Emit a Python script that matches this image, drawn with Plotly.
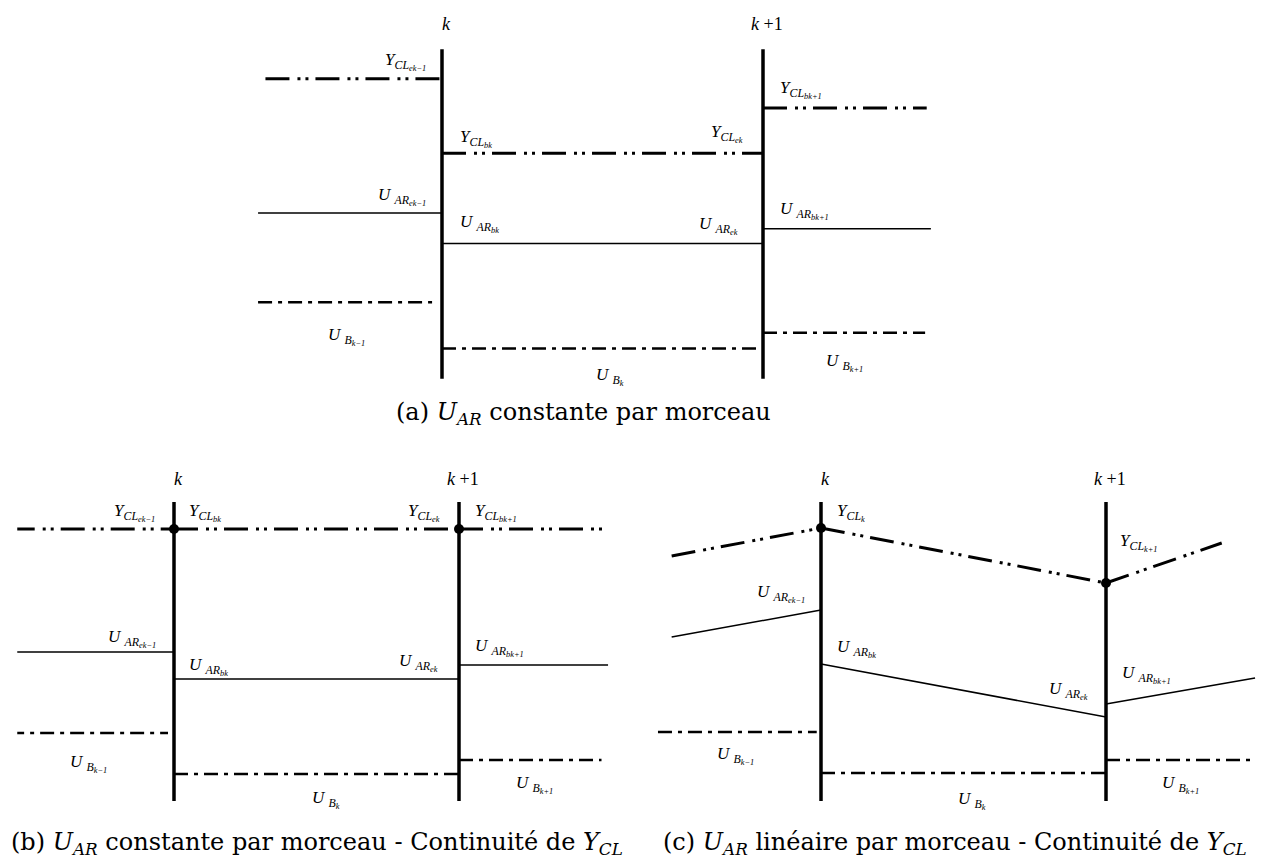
import plotly.graph_objects as go

# ------------------------------------------------------------------ DATA
# horizontal unit: boundary k = 0, boundary k+1 = 1 ; vertical: arbitrary level units
bound_x = [0, 1]
bound_text = ["<i>k</i>", "<i>k</i> +1"]

# ---- panel (a): U_AR piecewise constant
a_bound_y = [2.2, 35.8]
a_ycl_x = [[-0.55, 0], [0, 1], [1, 1.51]]
a_ycl_y = [[32.8, 32.8], [25.2, 25.2], [29.8, 29.8]]
a_uar_x = [[-0.573, 0], [0, 1], [1, 1.523]]
a_uar_y = [[19.1, 19.1], [16.0, 16.0], [17.5, 17.5]]
a_ub_x = [[-0.573, -0.016], [0, 1], [1, 1.505]]
a_ub_y = [[10.0, 10.0], [5.3, 5.3], [6.9, 6.9]]

# ---- panel (b): U_AR piecewise constant, Y_CL continuous
b_bound_y = [0.9, 30.8]
b_ycl_x = [[-0.573, 0], [0, 1], [1, 1.518]]
b_ycl_y = [[28.1, 28.1], [28.1, 28.1], [28.1, 28.1]]
b_node_y = [28.1, 28.1]
b_uar_x = [[-0.573, 0], [0, 1], [1, 1.523]]
b_uar_y = [[15.8, 15.8], [13.1, 13.1], [14.5, 14.5]]
b_ub_x = [[-0.575, -0.021], [0, 1], [1, 1.50]]
b_ub_y = [[7.7, 7.7], [3.6, 3.6], [5.0, 5.0]]

# ---- panel (c): U_AR piecewise linear, Y_CL continuous
c_bound_y = [0.9, 30.8]
c_ycl_x = [[-0.524, 0], [0, 1], [1, 1.406]]
c_ycl_y = [[25.4, 28.2], [28.2, 22.7], [22.7, 26.7]]
c_node_y = [28.2, 22.7]
c_uar_x = [[-0.524, 0], [0, 1], [1, 1.523]]
c_uar_y = [[17.3, 20.0], [14.6, 9.3], [10.6, 13.2]]
c_ub_x = [[-0.572, -0.015], [0, 1], [1, 1.512]]
c_ub_y = [[7.8, 7.8], [3.7, 3.7], [5.0, 5.0]]

# ---- labels: (main letter, subscript, sub-subscript)
a_lab_name = [("Y", "CL", "ek−1"), ("Y", "CL", "bk"), ("Y", "CL", "ek"), ("Y", "CL", "bk+1"),
              ("U ", "AR", "ek−1"), ("U ", "AR", "bk"), ("U ", "AR", "ek"), ("U ", "AR", "bk+1"),
              ("U ", "B", "k−1"), ("U ", "B", "k"), ("U ", "B", "k+1")]
a_lab_x = [-0.044, 0.05, 0.944, 1.047, -0.044, 0.05, 0.928, 1.047, -0.361, 0.474, 1.19]
a_lab_y = [34.5, 26.7, 27.2, 31.7, 20.8, 18.0, 17.8, 19.4, 6.5, 2.4, 3.9]
a_lab_side = ["right", "left", "right", "left", "right", "left", "right", "left", "left", "left", "left"]
a_k_y = 38.4

b_lab_name = [("Y", "CL", "ek−1"), ("Y", "CL", "bk"), ("Y", "CL", "ek"), ("Y", "CL", "bk+1"),
              ("U ", "AR", "ek−1"), ("U ", "AR", "bk"), ("U ", "AR", "ek"), ("U ", "AR", "bk+1"),
              ("U ", "B", "k−1"), ("U ", "B", "k"), ("U ", "B", "k+1")]
b_lab_x = [-0.06, 0.046, 0.94, 1.049, -0.056, 0.046, 0.933, 1.049, -0.372, 0.477, 1.193]
b_lab_y = [29.8, 29.8, 29.8, 29.8, 17.2, 14.4, 14.8, 16.3, 4.7, 1.1, 2.6]
b_lab_side = ["right", "left", "right", "left", "right", "left", "right", "left", "left", "left", "left"]
b_k_y = 33.15

c_lab_name = [("Y", "CL", "k"), ("Y", "CL", "k+1"),
              ("U ", "AR", "ek−1"), ("U ", "AR", "bk"), ("U ", "AR", "ek"), ("U ", "AR", "bk+1"),
              ("U ", "B", "k−1"), ("U ", "B", "k"), ("U ", "B", "k+1")]
c_lab_x = [0.049, 1.042, -0.049, 0.049, 0.944, 1.049, -0.372, 0.474, 1.19]
c_lab_y = [29.8, 26.8, 21.7, 16.2, 12.0, 13.6, 5.5, 1.0, 2.6]
c_lab_side = ["left", "left", "right", "left", "right", "left", "left", "left", "left"]
c_k_y = 33.15

captions = ["(a) <i>U</i><sub><i>AR</i></sub> constante par morceau",
            "(b) <i>U</i><sub><i>AR</i></sub> constante par morceau - Continuité de <i>Y</i><sub><i>CL</i></sub>",
            "(c) <i>U</i><sub><i>AR</i></sub> linéaire par morceau - Continuité de <i>Y</i><sub><i>CL</i></sub>"]

# ------------------------------------------------------------------ LAYOUT / STYLE
OFF = 8                      # page body margin of the html page
W, H = 1268 - OFF, 864 - OFF
SERIF = "Liberation Serif"
YCL_DASH = "24px,8px,3px,5px,3px,7px"
UB_DASH = "14px,6px,4px,6px"

# panel geometry (page pixels): boundary k position, pixels per unit, ranges, y=0 position, pixels per y unit
panels = {
    "a": dict(kpx=442, unit=321, xr=[-0.8, 1.8], y0px=400, yunit=10, yr=[-2, 40]),
    "b": dict(kpx=174, unit=285, xr=[-0.55, 1.6], y0px=810, yunit=10, yr=[-0.5, 34.5]),
    "c": dict(kpx=821, unit=285, xr=[-0.6, 1.55], y0px=810, yunit=10, yr=[-0.5, 34.5]),
}

fig = go.Figure()
axis_ids = {"a": ("x", "y"), "b": ("x2", "y2"), "c": ("x3", "y3")}

layout_axes = {}
for i, (p, g) in enumerate(panels.items()):
    x0 = g["kpx"] + g["xr"][0] * g["unit"] - OFF
    x1 = g["kpx"] + g["xr"][1] * g["unit"] - OFF
    ytop = g["y0px"] - g["yr"][1] * g["yunit"] - OFF
    ybot = g["y0px"] - g["yr"][0] * g["yunit"] - OFF
    sfx = "" if i == 0 else str(i + 1)
    ax_common = dict(visible=False, showgrid=False, zeroline=False, fixedrange=True)
    layout_axes["xaxis" + sfx] = dict(domain=[max(0, x0 / W), min(1, x1 / W)], range=g["xr"],
                                      anchor="y" + sfx, **ax_common)
    layout_axes["yaxis" + sfx] = dict(domain=[max(0, 1 - ybot / H), min(1, 1 - ytop / H)], range=g["yr"],
                                      anchor="x" + sfx, **ax_common)


def add_segments(p, xs, ys, width, dash):
    xa, ya = axis_ids[p]
    for sx, sy in zip(xs, ys):
        fig.add_trace(go.Scatter(x=sx, y=sy, mode="lines", xaxis=xa, yaxis=ya,
                                 line=dict(color="black", width=width, dash=dash),
                                 hoverinfo="skip", showlegend=False))


def add_bounds(p, by):
    xa, ya = axis_ids[p]
    for bx in bound_x:
        fig.add_trace(go.Scatter(x=[bx, bx], y=by, mode="lines", xaxis=xa, yaxis=ya,
                                 line=dict(color="black", width=3.5),
                                 hoverinfo="skip", showlegend=False))


def add_nodes(p, ny):
    xa, ya = axis_ids[p]
    fig.add_trace(go.Scatter(x=bound_x, y=ny, mode="markers", xaxis=xa, yaxis=ya,
                             marker=dict(color="black", size=10),
                             hoverinfo="skip", showlegend=False))


def label_text(main, sub, subsub):
    return f"{main}<sub>{sub}<sub>{subsub}</sub></sub>"


def add_labels(p, names, lx, ly, sides, ky):
    xa, ya = axis_ids[p]
    for nm, x, y, s in zip(names, lx, ly, sides):
        fig.add_annotation(x=x, y=y, xref=xa, yref=ya, text=label_text(*nm),
                           showarrow=False, xanchor=s, yanchor="middle",
                           font=dict(family=SERIF, size=17, color="black", style="italic"))
    for bx, t in zip(bound_x, bound_text):
        fig.add_annotation(x=bx, y=ky, xref=xa, yref=ya, text=t, showarrow=False,
                           xanchor="center", yanchor="middle", xshift=4,
                           font=dict(family=SERIF, size=18, color="black"))


for p, by, yclx, ycly, uarx, uary, ubx, uby in [
        ("a", a_bound_y, a_ycl_x, a_ycl_y, a_uar_x, a_uar_y, a_ub_x, a_ub_y),
        ("b", b_bound_y, b_ycl_x, b_ycl_y, b_uar_x, b_uar_y, b_ub_x, b_ub_y),
        ("c", c_bound_y, c_ycl_x, c_ycl_y, c_uar_x, c_uar_y, c_ub_x, c_ub_y)]:
    add_bounds(p, by)
    add_segments(p, yclx, ycly, 3, YCL_DASH)
    add_segments(p, uarx, uary, 1.5, "solid")
    add_segments(p, ubx, uby, 2.5, UB_DASH)

add_nodes("b", b_node_y)
add_nodes("c", c_node_y)

add_labels("a", a_lab_name, a_lab_x, a_lab_y, a_lab_side, a_k_y)
add_labels("b", b_lab_name, b_lab_x, b_lab_y, b_lab_side, b_k_y)
add_labels("c", c_lab_name, c_lab_x, c_lab_y, c_lab_side, c_k_y)

# captions (page pixel centres -> paper coordinates)
cap_pos = [(583, 413), (317, 843), (955, 843)]
for t, (cx, cy) in zip(captions, cap_pos):
    fig.add_annotation(x=(cx - OFF) / W, y=1 - (cy - OFF) / H, xref="paper", yref="paper", text=t,
                       showarrow=False, xanchor="center", yanchor="middle",
                       font=dict(family="DejaVu Serif", size=24, color="black"))

fig.update_layout(width=W, height=H, margin=dict(l=0, r=0, t=0, b=0),
                  paper_bgcolor="white", plot_bgcolor="white", showlegend=False,
                  hovermode=False, **layout_axes)

fig.write_html("out.html", config={"displayModeBar": False})
